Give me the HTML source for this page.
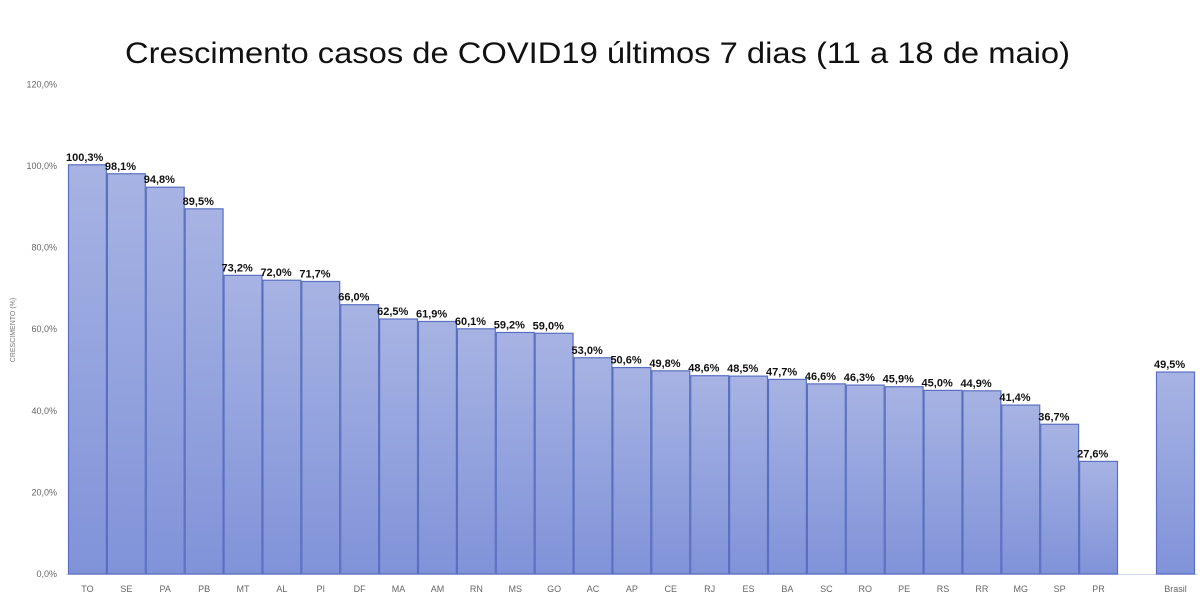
<!DOCTYPE html>
<html><head><meta charset="utf-8"><style>
body{margin:0;background:#fff;width:1200px;height:600px;overflow:hidden;font-family:"Liberation Sans",sans-serif}
</style></head><body>
<svg id="s" width="1200" height="600" xmlns="http://www.w3.org/2000/svg">
<defs><linearGradient id="g" x1="0" y1="0" x2="0" y2="1"><stop offset="0" stop-color="#a7b3e3"/><stop offset="1" stop-color="#8093d9"/></linearGradient></defs>
<text x="125" y="63" font-size="30" fill="#111" textLength="945" lengthAdjust="spacingAndGlyphs">Crescimento casos de COVID19 últimos 7 dias (11 a 18 de maio)</text>
<text transform="translate(15,330) rotate(-90)" text-anchor="middle" font-size="7" fill="#777">CRESCIMENTO (%)</text>
<line x1="66" y1="574.5" x2="1198" y2="574.5" stroke="#d0d6ee" stroke-width="1"/>
</svg>
<script>
var s=document.getElementById('s'),ns='http://www.w3.org/2000/svg';
function el(t,a,txt){var e=document.createElementNS(ns,t);for(var k in a)e.setAttribute(k,a[k]);if(txt)e.textContent=txt;s.appendChild(e);}
var z=574,k=4.08;
for(var i=0;i<=6;i++){var v=i*20;el('text',{x:57,y:z-v*k+3,'text-anchor':'end','font-size':9,fill:'#666'},v+',0%');}
var d=[["TO",100.3],["SE",98.1],["PA",94.8],["PB",89.5],["MT",73.2],["AL",72.0],["PI",71.7],["DF",66.0],["MA",62.5],["AM",61.9],["RN",60.1],["MS",59.2],["GO",59.0],["AC",53.0],["AP",50.6],["CE",49.8],["RJ",48.6],["ES",48.5],["BA",47.7],["SC",46.6],["RO",46.3],["PE",45.9],["RS",45.0],["RR",44.9],["MG",41.4],["SP",36.7],["PR",27.6]];
var w=1050/27;
function bar(x,w,n,v){var y=z-v*k;
el('rect',{x:x+0.5,y:y,width:w-1,height:z-y,fill:'url(#g)',stroke:'#5a6fc0','stroke-width':1.2});
el('text',{x:x+w/2,y:592,'text-anchor':'middle','font-size':9,fill:'#666'},n);
el('text',{x:x-2,y:y-4,'font-size':11,'font-weight':'bold',fill:'#111'},v.toFixed(1).replace('.',',')+'%');}
d.forEach(function(a,i){bar(68+i*w,w,a[0],a[1]);});
bar(1156,39,"Brasil",49.5);
</script>
</body></html>
